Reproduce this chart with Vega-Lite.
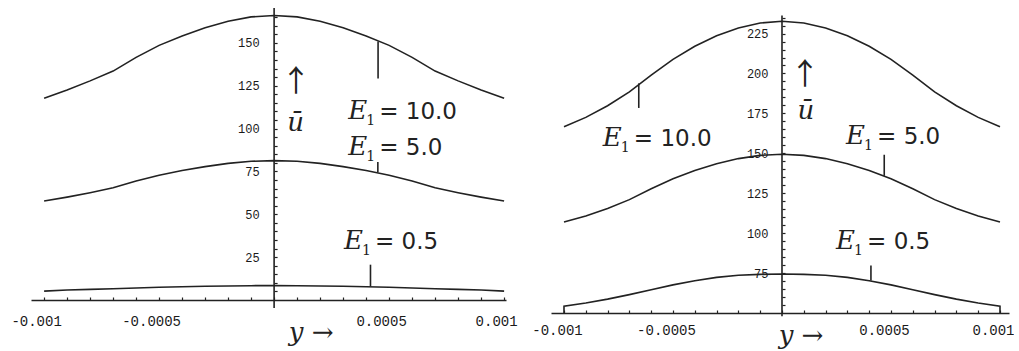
{
  "$schema": "https://vega.github.io/schema/vega-lite/v6.json",
  "autosize": {"type": "pad"},
  "padding": {"left": 10, "top": 7, "right": 0, "bottom": 0},
  "background": "white",
  "bounds": "flush",
  "spacing": 45,
  "config": {"view": {"stroke": null}, "axis": {"grid": false}},
  "datasets": {
    "lc": [
      {"E":"10","x":-0.001,"u":117.6},{"E":"10","x":-0.0009,"u":122.5},{"E":"10","x":-0.0008,"u":127.8},{"E":"10","x":-0.0007,"u":133.5},{"E":"10","x":-0.0006,"u":141.5},{"E":"10","x":-0.0005,"u":148.5},{"E":"10","x":-0.0004,"u":154.0},{"E":"10","x":-0.0003,"u":158.8},{"E":"10","x":-0.0002,"u":162.6},{"E":"10","x":-0.0001,"u":165.1},{"E":"10","x":0,"u":165.9},{"E":"10","x":0.0001,"u":165.1},{"E":"10","x":0.0002,"u":162.6},{"E":"10","x":0.0003,"u":158.8},{"E":"10","x":0.0004,"u":154.0},{"E":"10","x":0.0005,"u":148.5},{"E":"10","x":0.0006,"u":141.5},{"E":"10","x":0.0007,"u":133.5},{"E":"10","x":0.0008,"u":127.8},{"E":"10","x":0.0009,"u":122.5},{"E":"10","x":0.001,"u":117.6},
      {"E":"5","x":-0.001,"u":57.7},{"E":"5","x":-0.0009,"u":60.0},{"E":"5","x":-0.0008,"u":62.6},{"E":"5","x":-0.0007,"u":65.5},{"E":"5","x":-0.0006,"u":69.4},{"E":"5","x":-0.0005,"u":72.8},{"E":"5","x":-0.0004,"u":75.5},{"E":"5","x":-0.0003,"u":77.8},{"E":"5","x":-0.0002,"u":79.7},{"E":"5","x":-0.0001,"u":80.9},{"E":"5","x":0,"u":81.3},{"E":"5","x":0.0001,"u":80.9},{"E":"5","x":0.0002,"u":79.7},{"E":"5","x":0.0003,"u":77.8},{"E":"5","x":0.0004,"u":75.5},{"E":"5","x":0.0005,"u":72.8},{"E":"5","x":0.0006,"u":69.4},{"E":"5","x":0.0007,"u":65.5},{"E":"5","x":0.0008,"u":62.6},{"E":"5","x":0.0009,"u":60.0},{"E":"5","x":0.001,"u":57.7},
      {"E":"0.5","x":-0.001,"u":5.2},{"E":"0.5","x":-0.0009,"u":5.8},{"E":"0.5","x":-0.0008,"u":6.2},{"E":"0.5","x":-0.0007,"u":6.6},{"E":"0.5","x":-0.0006,"u":7.0},{"E":"0.5","x":-0.0005,"u":7.4},{"E":"0.5","x":-0.0004,"u":7.7},{"E":"0.5","x":-0.0003,"u":8.0},{"E":"0.5","x":-0.0002,"u":8.2},{"E":"0.5","x":-0.0001,"u":8.35},{"E":"0.5","x":0,"u":8.4},{"E":"0.5","x":0.0001,"u":8.35},{"E":"0.5","x":0.0002,"u":8.2},{"E":"0.5","x":0.0003,"u":8.0},{"E":"0.5","x":0.0004,"u":7.7},{"E":"0.5","x":0.0005,"u":7.4},{"E":"0.5","x":0.0006,"u":7.0},{"E":"0.5","x":0.0007,"u":6.6},{"E":"0.5","x":0.0008,"u":6.2},{"E":"0.5","x":0.0009,"u":5.8},{"E":"0.5","x":0.001,"u":5.2}
    ],
    "lr": [
      {"x":0,"u":-4.7,"u2":170.3},
      {"x":0.000452,"u":150.7,"u2":129.2},
      {"x":0.000451,"u":80.5,"u2":74.5},
      {"x":0.000419,"u":20.6,"u2":7.9}
    ],
    "ll": [
      {"x":0.000322,"u":105.5,"v":"= 10.0"},
      {"x":0.000322,"u":84.3,"v":"= 5.0"},
      {"x":0.000304,"u":30.0,"v":"= 0.5"}
    ],
    "ln": [
      {"x":0.0000957,"u":127.4,"t":"↑"},
      {"x":0.0000935,"u":103.5,"t":"ū"},
      {"x":0.000161,"u":-19.5,"t":"y →"}
    ],
    "rc": [
      {"E":"10","x":-0.001,"u":166.6},{"E":"10","x":-0.0009,"u":172.5},{"E":"10","x":-0.0008,"u":179.8},{"E":"10","x":-0.0007,"u":188.5},{"E":"10","x":-0.0006,"u":199.0},{"E":"10","x":-0.0005,"u":208.8},{"E":"10","x":-0.0004,"u":217.0},{"E":"10","x":-0.0003,"u":223.6},{"E":"10","x":-0.0002,"u":228.5},{"E":"10","x":-0.0001,"u":231.6},{"E":"10","x":0,"u":232.7},{"E":"10","x":0.0001,"u":231.6},{"E":"10","x":0.0002,"u":228.5},{"E":"10","x":0.0003,"u":223.6},{"E":"10","x":0.0004,"u":217.0},{"E":"10","x":0.0005,"u":208.8},{"E":"10","x":0.0006,"u":199.0},{"E":"10","x":0.0007,"u":188.5},{"E":"10","x":0.0008,"u":179.8},{"E":"10","x":0.0009,"u":172.5},{"E":"10","x":0.001,"u":166.6},
      {"E":"5","x":-0.001,"u":107.0},{"E":"5","x":-0.0009,"u":110.8},{"E":"5","x":-0.0008,"u":115.4},{"E":"5","x":-0.0007,"u":121.0},{"E":"5","x":-0.0006,"u":127.8},{"E":"5","x":-0.0005,"u":134.1},{"E":"5","x":-0.0004,"u":139.3},{"E":"5","x":-0.0003,"u":143.5},{"E":"5","x":-0.0002,"u":146.7},{"E":"5","x":-0.0001,"u":148.7},{"E":"5","x":0,"u":149.4},{"E":"5","x":0.0001,"u":148.7},{"E":"5","x":0.0002,"u":146.7},{"E":"5","x":0.0003,"u":143.5},{"E":"5","x":0.0004,"u":139.3},{"E":"5","x":0.0005,"u":134.1},{"E":"5","x":0.0006,"u":127.8},{"E":"5","x":0.0007,"u":121.0},{"E":"5","x":0.0008,"u":115.4},{"E":"5","x":0.0009,"u":110.8},{"E":"5","x":0.001,"u":107.0},
      {"E":"0.5","x":-0.001,"u":50},{"E":"0.5","x":-0.001,"u":54.3},{"E":"0.5","x":-0.0009,"u":56.3},{"E":"0.5","x":-0.0008,"u":58.7},{"E":"0.5","x":-0.0007,"u":61.5},{"E":"0.5","x":-0.0006,"u":64.6},{"E":"0.5","x":-0.0005,"u":67.6},{"E":"0.5","x":-0.0004,"u":70.2},{"E":"0.5","x":-0.0003,"u":72.3},{"E":"0.5","x":-0.0002,"u":73.6},{"E":"0.5","x":-0.0001,"u":74.2},{"E":"0.5","x":0,"u":74.4},{"E":"0.5","x":0.0001,"u":74.2},{"E":"0.5","x":0.0002,"u":73.6},{"E":"0.5","x":0.0003,"u":72.3},{"E":"0.5","x":0.0004,"u":70.2},{"E":"0.5","x":0.0005,"u":67.6},{"E":"0.5","x":0.0006,"u":64.6},{"E":"0.5","x":0.0007,"u":61.5},{"E":"0.5","x":0.0008,"u":58.7},{"E":"0.5","x":0.0009,"u":56.3},{"E":"0.5","x":0.001,"u":54.3},{"E":"0.5","x":0.001,"u":50}
    ],
    "rr": [
      {"x":0,"u":48,"u2":236.3},
      {"x":-0.000657,"u":193.8,"u2":178.4},
      {"x":0.000469,"u":149.1,"u2":135.9},
      {"x":0.000408,"u":79.8,"u2":70.4}
    ],
    "rl": [
      {"x":-0.000822,"u":154.3,"v":"= 10.0"},
      {"x":0.000294,"u":155.8,"v":"= 5.0"},
      {"x":0.000248,"u":89.9,"v":"= 0.5"}
    ],
    "rn": [
      {"x":0.0001055,"u":199.3,"t":"↑"},
      {"x":0.00011,"u":176.7,"t":"ū"},
      {"x":0.0000872,"u":35.5,"t":"y →"}
    ]
  },
  "hconcat": [
    {
      "width": 475,
      "height": 292,
      "encoding": {
        "x": {"field": "x", "type": "quantitative",
          "scale": {"domain": [-0.001057, 0.0010082], "nice": false, "zero": false},
          "axis": {"title": null, "domainColor": "#222", "domainWidth": 1.6, "tickColor": "#222", "tickSize": -3, "tickWidth": 1.2,
            "values": [-0.001,-0.0009,-0.0008,-0.0007,-0.0006,-0.0005,-0.0004,-0.0003,-0.0002,-0.0001,0,0.0001,0.0002,0.0003,0.0004,0.0005,0.0006,0.0007,0.0008,0.0009,0.001],
            "labelExpr": "(abs(abs(datum.value)-0.0005) < 0.00001 || abs(abs(datum.value)-0.001) < 0.00001) ? ((datum.value < 0 ? '-' : '') + format(abs(datum.value), '.4~f')) : ''",
            "labelFont": "Liberation Mono", "labelFontSize": 14, "labelColor": "#1a1a1a", "labelPadding": 17, "labelOffset": -8, "labelOverlap": false, "labelFlush": false, "grid": false}},
        "y": {"field": "u", "type": "quantitative",
          "scale": {"domain": [0, 170.3], "nice": false, "zero": false},
          "axis": {"title": null, "domain": false, "offset": -243.1, "tickColor": "#222", "tickSize": -3, "tickWidth": 1.2,
            "values": [5,10,15,20,25,30,35,40,45,50,55,60,65,70,75,80,85,90,95,100,105,110,115,120,125,130,135,140,145,150,155,160,165],
            "labelExpr": "datum.value % 25 == 0 ? datum.label : ''",
            "labelFont": "Liberation Mono", "labelFontSize": 12, "labelColor": "#1a1a1a", "labelPadding": 18, "labelOverlap": false, "grid": false}}
      },
      "layer": [
        {"data": {"name": "lc"}, "mark": {"type": "line", "color": "#222", "strokeWidth": 1.6, "clip": false}, "encoding": {"detail": {"field": "E"}}},
        {"data": {"name": "lr"}, "mark": {"type": "rule", "color": "#222", "strokeWidth": 1.6}, "encoding": {"y2": {"field": "u2"}}},
        {"data": {"name": "ll"}, "mark": {"type": "text", "text": "E", "font": "DejaVu Serif", "fontStyle": "italic", "fontSize": 26, "align": "left", "baseline": "alphabetic", "color": "#222"}, "encoding": {}},
        {"data": {"name": "ll"}, "mark": {"type": "text", "text": "1", "font": "DejaVu Serif", "fontSize": 14, "align": "left", "baseline": "alphabetic", "dx": 18, "dy": 6, "color": "#222"}, "encoding": {}},
        {"data": {"name": "ll"}, "mark": {"type": "text", "font": "DejaVu Sans", "fontSize": 23, "align": "left", "baseline": "alphabetic", "dx": 31, "color": "#222"}, "encoding": {"text": {"field": "v"}}},
        {"data": {"name": "ln"}, "transform": [{"filter": "datum.t != '↑'"}], "mark": {"type": "text", "font": "DejaVu Serif", "fontStyle": "italic", "fontSize": 26, "align": "center", "baseline": "middle", "color": "#222"}, "encoding": {"text": {"field": "t"}}},
        {"data": {"name": "ln"}, "transform": [{"filter": "datum.t == '↑'"}], "mark": {"type": "text", "font": "Noto Sans CJK SC", "fontSize": 30, "align": "center", "baseline": "middle", "color": "#222"}, "encoding": {"text": {"field": "t"}}}
      ]
    },
    {
      "width": 458,
      "height": 305,
      "encoding": {
        "x": {"field": "x", "type": "quantitative",
          "scale": {"domain": [-0.0010596, 0.0010413], "nice": false, "zero": false},
          "axis": {"title": null, "domainColor": "#222", "domainWidth": 1.6, "tickColor": "#222", "tickSize": -3, "tickWidth": 1.2,
            "values": [-0.001,-0.0009,-0.0008,-0.0007,-0.0006,-0.0005,-0.0004,-0.0003,-0.0002,-0.0001,0,0.0001,0.0002,0.0003,0.0004,0.0005,0.0006,0.0007,0.0008,0.0009,0.001],
            "labelExpr": "(abs(abs(datum.value)-0.0005) < 0.00001 || abs(abs(datum.value)-0.001) < 0.00001) ? ((datum.value < 0 ? '-' : '') + format(abs(datum.value), '.4~f')) : ''",
            "labelFont": "Liberation Mono", "labelFontSize": 14, "labelColor": "#1a1a1a", "labelPadding": 13, "labelOffset": -7, "labelOverlap": false, "labelFlush": false, "grid": false}},
        "y": {"field": "u", "type": "quantitative",
          "scale": {"domain": [50, 241], "nice": false, "zero": false},
          "axis": {"title": null, "domain": false, "offset": -231, "tickColor": "#222", "tickSize": -3, "tickWidth": 1.2,
            "values": [55,60,65,70,75,80,85,90,95,100,105,110,115,120,125,130,135,140,145,150,155,160,165,170,175,180,185,190,195,200,205,210,215,220,225,230,235],
            "labelExpr": "datum.value % 25 == 0 ? datum.label : ''",
            "labelFont": "Liberation Mono", "labelFontSize": 12, "labelColor": "#1a1a1a", "labelPadding": 17, "labelOverlap": false, "grid": false}}
      },
      "layer": [
        {"data": {"name": "rc"}, "mark": {"type": "line", "color": "#222", "strokeWidth": 1.6, "clip": false}, "encoding": {"detail": {"field": "E"}}},
        {"data": {"name": "rr"}, "mark": {"type": "rule", "color": "#222", "strokeWidth": 1.6}, "encoding": {"y2": {"field": "u2"}}},
        {"data": {"name": "rl"}, "mark": {"type": "text", "text": "E", "font": "DejaVu Serif", "fontStyle": "italic", "fontSize": 26, "align": "left", "baseline": "alphabetic", "color": "#222"}, "encoding": {}},
        {"data": {"name": "rl"}, "mark": {"type": "text", "text": "1", "font": "DejaVu Serif", "fontSize": 14, "align": "left", "baseline": "alphabetic", "dx": 18, "dy": 6, "color": "#222"}, "encoding": {}},
        {"data": {"name": "rl"}, "mark": {"type": "text", "font": "DejaVu Sans", "fontSize": 23, "align": "left", "baseline": "alphabetic", "dx": 31, "color": "#222"}, "encoding": {"text": {"field": "v"}}},
        {"data": {"name": "rn"}, "transform": [{"filter": "datum.t != '↑'"}], "mark": {"type": "text", "font": "DejaVu Serif", "fontStyle": "italic", "fontSize": 26, "align": "center", "baseline": "middle", "color": "#222"}, "encoding": {"text": {"field": "t"}}},
        {"data": {"name": "rn"}, "transform": [{"filter": "datum.t == '↑'"}], "mark": {"type": "text", "font": "Noto Sans CJK SC", "fontSize": 30, "align": "center", "baseline": "middle", "color": "#222"}, "encoding": {"text": {"field": "t"}}}
      ]
    }
  ]
}
